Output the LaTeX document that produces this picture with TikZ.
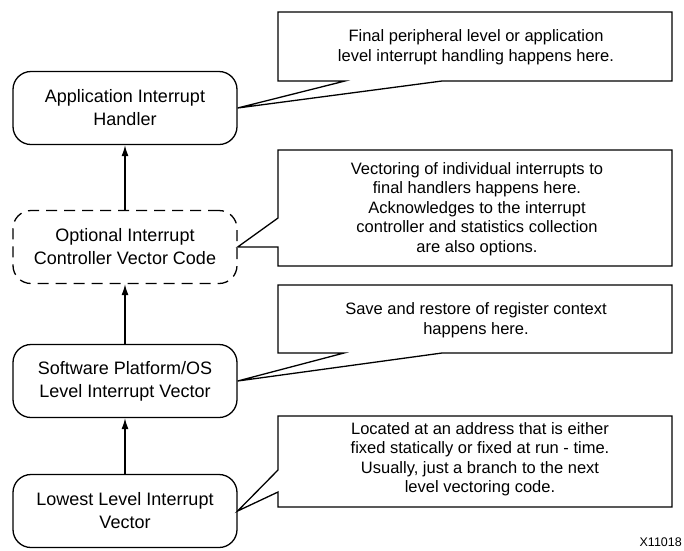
\documentclass[tikz,border=0pt]{standalone}
\usepackage{fontspec}
\setmainfont{Liberation Sans}
\usetikzlibrary{arrows.meta}
\begin{document}
\begin{tikzpicture}[x=1pt,y=-1pt,
  box/.style={draw, line width=1.3pt, rounded corners=18pt, minimum width=224pt, minimum height=73pt, align=center, font=\fontsize{18}{23}\selectfont, inner sep=0pt},
  dbox/.style={box, dash pattern=on 11pt off 7pt},
  callout/.style={draw, line width=1.3pt, line join=miter},
  ctext/.style={align=center, font=\fontsize{16.5}{19.5}\selectfont, inner sep=0pt},
  arr/.style={-{Latex[length=11pt,width=7pt]}, line width=1.3pt}]
\useasboundingbox (0,0) rectangle (684,550);
% boxes
\node[box]  (b1) at (125,108) {Application Interrupt\\Handler};
\node[dbox] (b2) at (125,247) {Optional Interrupt\\Controller Vector Code};
\node[box]  (b3) at (125,381) {Software Platform/OS\\Level Interrupt Vector};
\node[box]  (b4) at (125,511) {Lowest Level Interrupt\\Vector};
% arrows
\draw[arr] (b2.north) -- (b1.south);
\draw[arr] (b3.north) -- (b2.south);
\draw[arr] (b4.north) -- (b3.south);
% callouts
\draw[callout] (278,12) -- (672,12) -- (672,81) -- (442,81) -- (b1.east) -- (345,81) -- (278,81) -- cycle;
\draw[callout] (278,150) -- (672,150) -- (672,266) -- (278,266) -- (278,247) -- (b2.east) -- (278,218) -- cycle;
\draw[callout] (278,285) -- (672,285) -- (672,353) -- (442,353) -- (b3.east) -- (344,353) -- (278,353) -- cycle;
\draw[callout] (278,416) -- (672,416) -- (672,507) -- (278,507) -- (278,492) -- (b4.east) -- (278,470) -- cycle;
% callout texts
\node[ctext] (t1) at (476,47) {Final peripheral level or application\\level interrupt handling happens here.};
\node[ctext] (t2) at (477,209) {Vectoring of individual interrupts to\\final handlers happens here.\\Acknowledges to the interrupt\\controller and statistics collection\\are also options.};
\node[ctext] (t3) at (476,320) {Save and restore of register context\\happens here.};
\node[ctext] (t4) at (480,459) {Located at an address that is either\\fixed statically or fixed at run - time.\\Usually, just a branch to the next\\level vectoring code.};
\node[anchor=south east, inner sep=0pt, font=\fontsize{12.5}{15}\selectfont] (id) at (682,547) {X11018};
\end{tikzpicture}
\end{document}
